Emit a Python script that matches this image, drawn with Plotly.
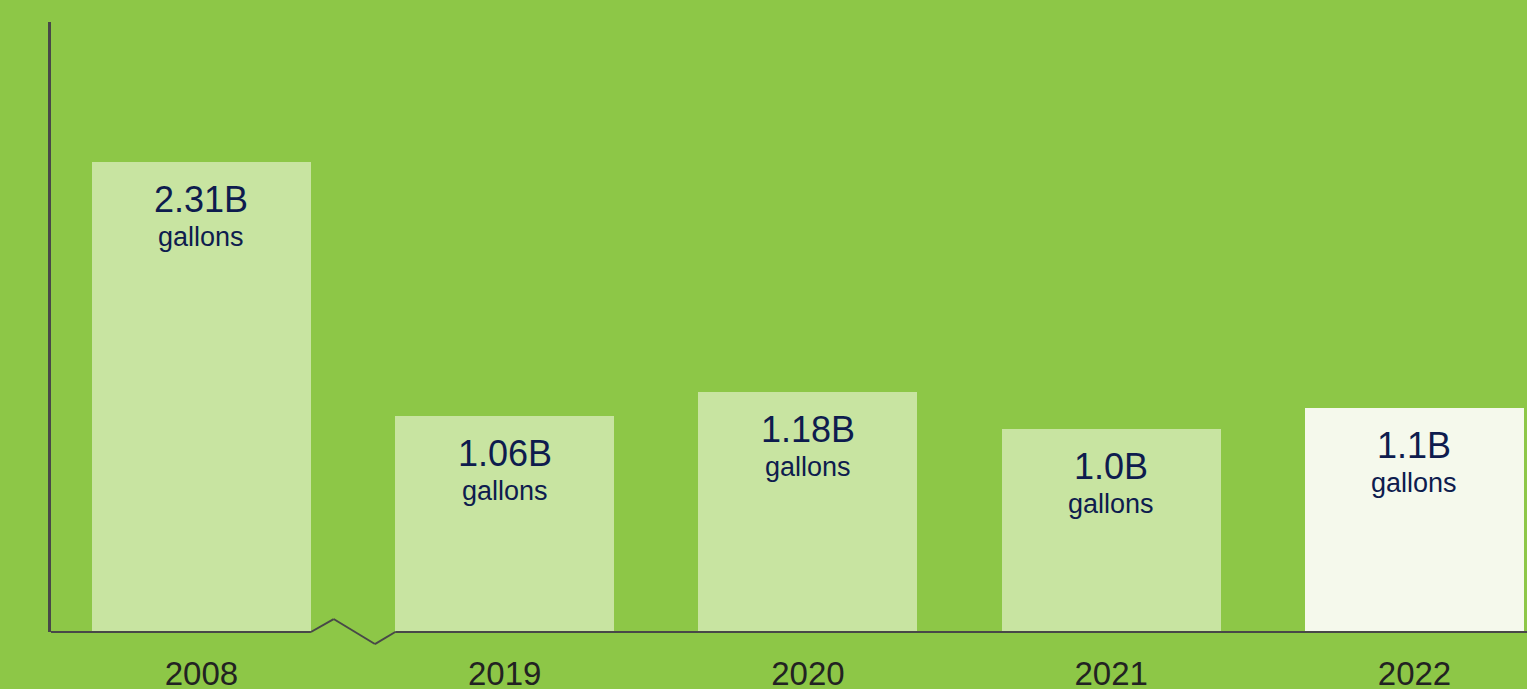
import plotly.graph_objects as go

years = ["2008", "2019", "2020", "2021", "2022"]
values = [2.31, 1.06, 1.18, 1.0, 1.1]
value_labels = ["2.31B", "1.06B", "1.18B", "1.0B", "1.1B"]
unit_label = "gallons"

BG = "#8DC747"
BAR = "#C8E4A1"
BAR_LAST = "#F5F9EC"
NAVY = "#0E1C4E"
AXIS = "#484848"
FONT = "Liberation Sans, Arial, sans-serif"

bar_colors = [BAR] * (len(years) - 1) + [BAR_LAST]
BW = 0.722
X0, X1 = -0.496, 4.371

fig = go.Figure()
fig.add_trace(go.Bar(
    x=years, y=values, width=BW,
    marker=dict(color=bar_colors, line=dict(width=0)),
    hoverinfo="skip",
))

ann = []
for i, (v, lab) in enumerate(zip(values, value_labels)):
    ann.append(dict(x=i, y=v, xref="x", yref="y", text=lab, showarrow=False,
                    yanchor="top", yshift=-15,
                    font=dict(family=FONT, size=36, color=NAVY)))
    ann.append(dict(x=i, y=v, xref="x", yref="y", text=unit_label, showarrow=False,
                    yanchor="top", yshift=-58,
                    font=dict(family=FONT, size=27, color=NAVY)))

# baseline with axis break between first and second category
gap_l = 0 + BW / 2
gap_r = 1 - BW / 2
peak_x = 0.436
trough_x = 0.572
shapes = []
line = dict(color=AXIS, width=2)
segs = [
    (X0, 0, gap_l, 0),
    (gap_l, 0, peak_x, 0.0213),
    (peak_x, 0.0213, trough_x, -0.0197),
    (trough_x, -0.0197, gap_r, 0),
    (gap_r, 0, X1, 0),
]
for xa, ya, xb, yb in segs:
    shapes.append(dict(type="line", xref="x", yref="paper", x0=xa, y0=ya, x1=xb, y1=yb,
                       line=line, layer="above"))

fig.update_layout(
    width=1527, height=689,
    margin=dict(l=51, r=0, t=22, b=57, autoexpand=False),
    paper_bgcolor=BG, plot_bgcolor=BG,
    showlegend=False,
    bargap=0,
    annotations=ann,
    shapes=shapes,
    xaxis=dict(type="category", range=[X0, X1], showgrid=False, zeroline=False,
               showline=False, ticks="", ticklabelstandoff=19, automargin=False,
               tickfont=dict(family=FONT, size=33, color="#222222"), fixedrange=True),
    yaxis=dict(range=[0, 3.0], showgrid=False, zeroline=False, showticklabels=False,
               showline=True, linecolor=AXIS, linewidth=3, ticks="", fixedrange=True,
               automargin=False),
)

fig.write_html("out.html", config={"displayModeBar": False})
